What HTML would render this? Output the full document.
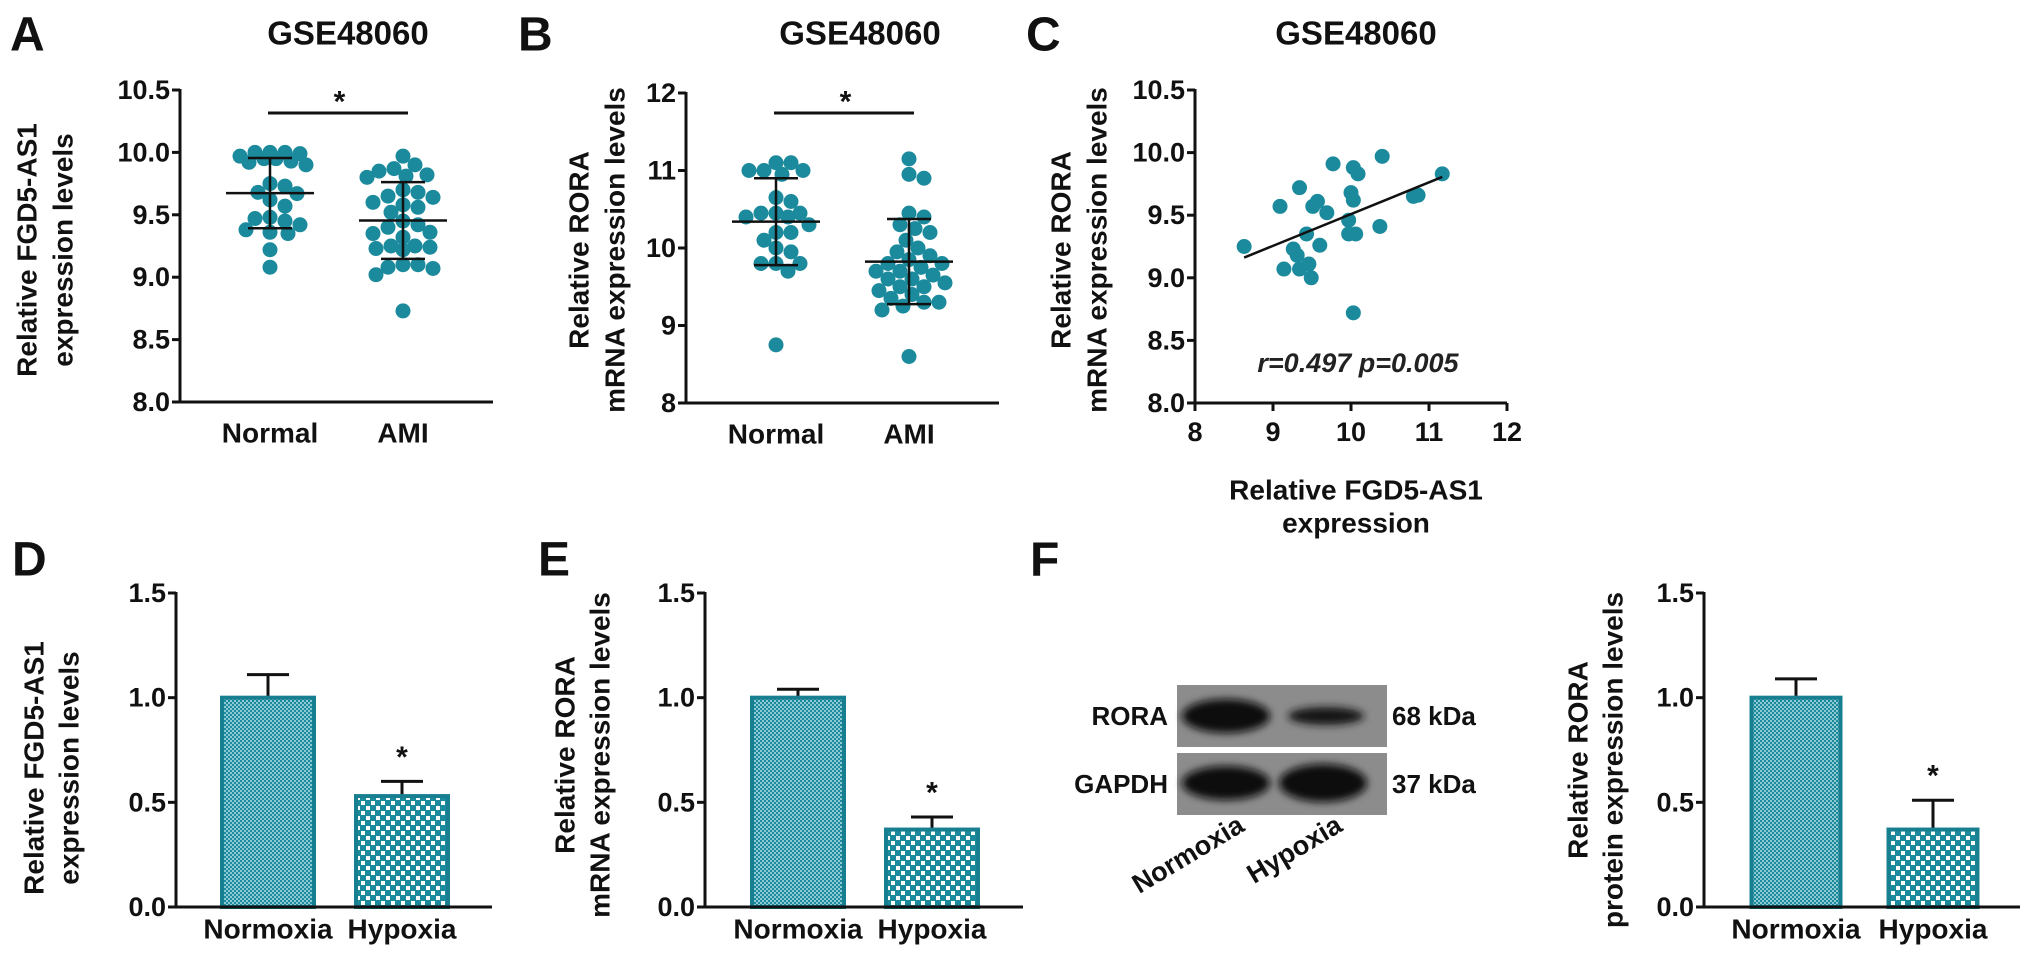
<!DOCTYPE html>
<html><head><meta charset="utf-8"><style>
html,body{margin:0;padding:0;background:#fff;}
svg{display:block;font-family:"Liberation Sans",Arial,sans-serif;font-weight:bold;}
</style></head><body>
<svg id="fig" width="2031" height="967" viewBox="0 0 2031 967" xmlns="http://www.w3.org/2000/svg">
<defs>
<pattern id="fine" width="4" height="4" patternUnits="userSpaceOnUse"><rect width="4" height="4" fill="#8fc9d3"/><rect width="2" height="2" fill="#1b8a9c"/><rect x="2" y="2" width="2" height="2" fill="#1b8a9c"/></pattern>
<pattern id="coarse" width="10" height="10" patternUnits="userSpaceOnUse"><rect width="10" height="10" fill="#1b8a9c"/><rect x="1" y="1" width="4" height="4" fill="#fff"/><rect x="6" y="6" width="4" height="4" fill="#fff"/></pattern>
<filter id="blur" x="-20%" y="-50%" width="140%" height="200%"><feGaussianBlur stdDeviation="4"/></filter>
</defs>
<g id="root"></g>
</svg>
<script>
const A_ticks=["8.0","8.5","9.0","9.5","10.0","10.5"];
const A_tickVals=[8,8.5,9,9.5,10,10.5];
const A_cats=["Normal","AMI"];
const A_normal=[10.0,10.0,9.99,9.97,9.95,9.93,9.92,9.9,9.95,10.0,9.75,9.73,9.68,9.67,9.62,9.57,9.48,9.47,9.45,9.42,9.38,9.36,9.35,9.22,9.08];
const A_ami=[9.97,9.9,9.87,9.85,9.82,9.81,9.8,9.7,9.68,9.65,9.64,9.6,9.58,9.56,9.52,9.45,9.42,9.4,9.36,9.35,9.32,9.25,9.25,9.24,9.23,9.22,9.1,9.1,9.08,9.07,9.02,8.73];
const B_ticks=["8","9","10","11","12"];
const B_tickVals=[8,9,10,11,12];
const B_normal=[11.1,11.0,11.0,10.95,11.0,11.1,10.65,10.6,10.45,10.45,10.45,10.4,10.4,10.3,10.2,10.2,10.1,10.0,9.95,9.8,9.8,9.8,9.7,8.75];
const B_ami=[11.15,10.95,10.9,10.45,10.4,10.3,10.25,10.2,10.1,10.0,9.95,9.9,9.85,9.8,9.8,9.75,9.7,9.7,9.65,9.6,9.6,9.55,9.5,9.5,9.45,9.4,9.35,9.3,9.3,9.25,9.2,8.6];
const C_xTicks=["8","9","10","11","12"];
const C_xTickVals=[8,9,10,11,12];
const C_x=[8.63,9.09,9.34,9.26,9.14,9.34,9.49,9.46,9.43,9.6,9.51,9.57,9.69,9.77,10.03,10.09,10.0,10.03,9.97,9.97,10.06,10.37,10.4,10.03,10.8,10.86,11.17,9.31];
const C_y=[9.25,9.57,9.72,9.23,9.07,9.07,9.0,9.11,9.35,9.26,9.57,9.61,9.52,9.91,9.88,9.83,9.68,9.62,9.46,9.35,9.35,9.41,9.97,8.72,9.65,9.66,9.83,9.18];
const bar_ticks=["0.0","0.5","1.0","1.5"];
const bar_tickVals=[0,0.5,1,1.5];
const bar_cats=["Normoxia","Hypoxia"];
const D_vals=[1.0,0.53];
const D_err=[0.11,0.07];
const E_vals=[1.0,0.37];
const E_err=[0.04,0.06];
const F_vals=[1.0,0.37];
const F_err=[0.09,0.14];

const NS="http://www.w3.org/2000/svg";
const root=document.getElementById('root');
const TEAL="#1b8a9c";
function mk(tag,attrs,parent){const e=document.createElementNS(NS,tag);for(const k in attrs)e.setAttribute(k,attrs[k]);(parent||root).appendChild(e);return e;}
function txt(s,x,y,size,anchor,parent,extra){const t=mk('text',Object.assign({x:x,y:y,'font-size':size,'text-anchor':anchor||'middle','dominant-baseline':'central',fill:'#111'},extra||{}),parent);t.textContent=s;return t;}
function linScale(d0,d1,r0,r1){return v=>r0+(v-d0)*(r1-r0)/(d1-d0);}

function panelLetter(s,x,y){const t=txt(s,x,y,48,'start');

}
function yTitle(lines,cx,cy,xs,name){const g=mk('g',{});


lines.forEach((l,i)=>{txt(l,0,0,28,'middle',g,{transform:'translate('+xs[i]+','+cy+') rotate(-90)'});});}
function yAxis(ax,y0,y1,xEnd,ticks,vals,sc,name){const g=mk('g',{});


mk('line',{x1:ax,y1:y1-1,x2:ax,y2:y0,stroke:'#111','stroke-width':3},g);
mk('line',{x1:ax-8,y1:y0,x2:xEnd,y2:y0,stroke:'#111','stroke-width':3},g);
vals.forEach((v,i)=>{const y=sc(v);mk('line',{x1:ax-8,y1:y,x2:ax,y2:y,stroke:'#111','stroke-width':3},g);
const t=txt(ticks[i],ax-10,y,27,'end',g);

});}

function swarm(vals,cx,sc,r,maxOff){const pts=[];const order=vals.map((v,i)=>i).sort((a,b)=>vals[b]-vals[a]);
order.forEach(i=>{const y=sc(vals[i]);let best=null,bestD=-1;
for(let k=0;;k++){const off=(k%2?1:-1)*Math.ceil(k/2)*3;if(Math.abs(off)>maxOff)break;const x=cx+off;
const d=pts.length?Math.min(...pts.map(p=>Math.hypot(p.x-x,p.y-y))):1e9;
if(d>=2*r-1){best=x;break;}if(d>bestD+0.5){bestD=d;best=x;}}
pts.push({x:best,y:y});});return pts;}
function meanSd(a){const m=a.reduce((s,v)=>s+v,0)/a.length;const sd=Math.sqrt(a.reduce((s,v)=>s+(v-m)*(v-m),0)/(a.length-1));return [m,sd];}

function dotPanel(cfg){const sc=linScale(cfg.dmin,cfg.dmax,cfg.y0,cfg.y1);
yAxis(cfg.ax,cfg.y0,cfg.y1,cfg.xEnd,cfg.ticks,cfg.tickVals,sc,cfg.id+'-y-axis');
cfg.groups.forEach((grp,gi)=>{const cx=cfg.centers[gi];const g=mk('g',{});


swarm(grp,cx,sc,7.5,38).forEach(p=>{const c=mk('circle',{cx:p.x,cy:p.y,r:7.5,fill:TEAL},g);

});
const ms=meanSd(grp);const ym=sc(ms[0]),yt=sc(ms[0]+ms[1]),yb=sc(ms[0]-ms[1]);
const e=mk('g',{stroke:'#111','stroke-width':2.5});


mk('line',{x1:cx-44,y1:ym,x2:cx+44,y2:ym},e);mk('line',{x1:cx,y1:yt,x2:cx,y2:yb},e);
mk('line',{x1:cx-22,y1:yt,x2:cx+22,y2:yt},e);mk('line',{x1:cx-22,y1:yb,x2:cx+22,y2:yb},e);
const l=txt(cfg.cats[gi],cx,cfg.y0+31,28);

});
const s=mk('line',{x1:cfg.centers[0]-2,y1:113,x2:cfg.centers[1]+5,y2:113,stroke:'#111','stroke-width':3});


const st=txt('*',(cfg.centers[0]+cfg.centers[1])/2+3,102,30);

}

function barPanel(cfg){const sc=linScale(0,1.5,907,593);
yAxis(cfg.ax,907,593,cfg.xEnd,bar_ticks,bar_tickVals,sc,cfg.id+'-y-axis');
cfg.vals.forEach((v,i)=>{const cx=cfg.centers[i];const top=sc(v);const w=cfg.w;
const eb=mk('g',{stroke:'#111','stroke-width':3});


const et=sc(v+cfg.err[i]);mk('line',{x1:cx,y1:top,x2:cx,y2:et},eb);mk('line',{x1:cx-21,y1:et,x2:cx+21,y2:et},eb);
const r=mk('rect',{x:cx-w/2,y:top,width:w,height:907-top,fill:i==0?'url(#fine)':'url(#coarse)',stroke:'#187f91','stroke-width':4});


if(i==1){const st=txt('*',cx,et-24,30);

}
const l=txt(bar_cats[i],cx,929,28);

});
mk('line',{x1:cfg.ax-8,y1:907,x2:cfg.xEnd,y2:907,stroke:'#111','stroke-width':3});}

panelLetter('A',10,35);panelLetter('B',518,35);panelLetter('C',1026,35);
panelLetter('D',12,560);panelLetter('E',538,560);panelLetter('F',1030,560);
[[348,'a'],[860,'b'],[1356,'c']].forEach(p=>{const t=txt('GSE48060',p[0],33,33);

});

yTitle(['Relative FGD5-AS1','expression levels'],0,250,[27,63],'panel-a-y-title');
dotPanel({id:'panel-a',ax:180,xEnd:493,y0:402,y1:90,dmin:8,dmax:10.5,ticks:A_ticks,tickVals:A_tickVals,centers:[270,403],cats:A_cats,groups:[A_normal,A_ami]});
yTitle(['Relative RORA','mRNA expression levels'],0,250,[579,615],'panel-b-y-title');
dotPanel({id:'panel-b',ax:686,xEnd:999,y0:403,y1:93,dmin:8,dmax:12,ticks:B_ticks,tickVals:B_tickVals,centers:[776,909],cats:A_cats,groups:[B_normal,B_ami]});

(function(){const sx=linScale(8,12,1195,1507);const sy=linScale(8,10.5,403,90);
yTitle(['Relative RORA','mRNA expression levels'],0,250,[1061,1097],'panel-c-y-title');
yAxis(1195,403,90,1507,A_ticks,A_tickVals,sy,'panel-c-y-axis');
const gx=mk('g',{});


C_xTickVals.forEach((v,i)=>{const x=sx(v);mk('line',{x1:x,y1:403,x2:x,y2:411,stroke:'#111','stroke-width':3},gx);
const t=txt(C_xTicks[i],x,432,27,'middle',gx);

});
const xt=mk('g',{});


txt('Relative FGD5-AS1',1356,490,28,'middle',xt);txt('expression',1356,523,28,'middle',xt);
const g=mk('g',{});


C_x.forEach((x,i)=>{const c=mk('circle',{cx:sx(x),cy:sy(C_y[i]),r:7.5,fill:TEAL},g);

});
const n=C_x.length;const mx=C_x.reduce((a,b)=>a+b,0)/n,my=C_y.reduce((a,b)=>a+b,0)/n;
let sxy=0,sxx=0;C_x.forEach((x,i)=>{sxy+=(x-mx)*(C_y[i]-my);sxx+=(x-mx)*(x-mx);});
const b=sxy/sxx,a=my-b*mx;const x0=Math.min(...C_x),x1=Math.max(...C_x);
const rl=mk('line',{x1:sx(x0),y1:sy(a+b*x0),x2:sx(x1),y2:sy(a+b*x1),stroke:'#111','stroke-width':2.5});


const st=txt('r=0.497  p=0.005',1358,363,27,'middle',null,{'font-style':'italic','font-weight':'bold',fill:'#222'});


st.setAttribute('xml:space','preserve');})();

yTitle(['Relative FGD5-AS1','expression levels'],0,768,[34,69],'panel-d-y-title');
barPanel({id:'panel-d',ax:176,xEnd:492,centers:[268,402],w:92,vals:D_vals,err:D_err});
yTitle(['Relative RORA','mRNA expression levels'],0,755,[565,600],'panel-e-y-title');
barPanel({id:'panel-e',ax:705,xEnd:1023,centers:[798,932],w:92,vals:E_vals,err:E_err});
yTitle(['Relative RORA','protein expression levels'],0,760,[1578,1613],'panel-f-y-title');
barPanel({id:'panel-f',ax:1704,xEnd:2020,centers:[1796,1933],w:89,vals:F_vals,err:F_err});

(function(){const g=mk('g',{});


mk('rect',{x:1177,y:685,width:210,height:62,fill:'#8c8c8c'},g);
mk('rect',{x:1177,y:753,width:210,height:62,fill:'#8c8c8c'},g);
mk('ellipse',{cx:1226,cy:716,rx:44,ry:17,fill:'#0a0a0a',filter:'url(#blur)'},g);
mk('ellipse',{cx:1326,cy:716,rx:38,ry:9,fill:'#151515',filter:'url(#blur)'},g);
mk('ellipse',{cx:1226,cy:783,rx:44,ry:17,fill:'#0a0a0a',filter:'url(#blur)'},g);
mk('ellipse',{cx:1323,cy:783,rx:44,ry:19,fill:'#0a0a0a',filter:'url(#blur)'},g);
[['RORA',1168,716,'end'],['GAPDH',1168,784,'end'],['68 kDa',1392,716,'start'],['37 kDa',1392,784,'start']].forEach(d=>{const t=txt(d[0],d[1],d[2],26,d[3],g);

});
const n=txt('Normoxia',1246,830,27,'end',g,{transform:'rotate(-31 1246 830)','dominant-baseline':'auto'});


const h=txt('Hypoxia',1344,830,27,'end',g,{transform:'rotate(-31 1344 830)','dominant-baseline':'auto'});

})();
</script>
</body></html>
